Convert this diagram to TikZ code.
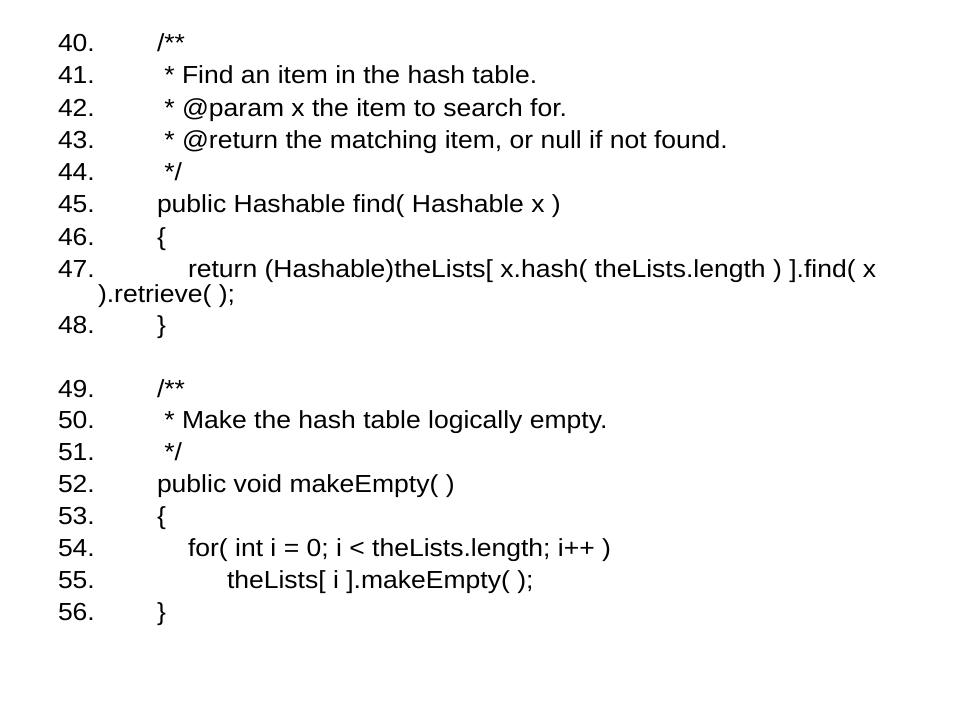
\documentclass[tikz,border=0pt]{standalone}
\usepackage{fontspec}
\setmainfont{Liberation Sans}[FakeStretch=1.075]
\begin{document}
\begin{tikzpicture}[x=0.75pt,y=-0.75pt,
  codeline/.style={anchor=base west,inner sep=0pt,outer sep=0pt,font=\fontsize{18.5}{21}\selectfont,text=black}]
\useasboundingbox[fill=white] (0,0) rectangle (960,720);
% line numbers
\node[codeline] (n40) at (58,51.7) {40.};
\node[codeline] (n41) at (58,84) {41.};
\node[codeline] (n42) at (58,116.5) {42.};
\node[codeline] (n43) at (58,148.5) {43.};
\node[codeline] (n44) at (58,181) {44.};
\node[codeline] (n45) at (58,213) {45.};
\node[codeline] (n46) at (58,245.5) {46.};
\node[codeline] (n47) at (58,277) {47.};
\node[codeline] (n48) at (58,333) {48.};
\node[codeline] (n49) at (58,397) {49.};
\node[codeline] (n50) at (58,428.5) {50.};
\node[codeline] (n51) at (58,460) {51.};
\node[codeline] (n52) at (58,492) {52.};
\node[codeline] (n53) at (58,524) {53.};
\node[codeline] (n54) at (58,556) {54.};
\node[codeline] (n55) at (58,588) {55.};
\node[codeline] (n56) at (58,620) {56.};
% code
\node[codeline] (c40) at (157,51.7) {/**};
\node[codeline] (c41) at (157,84) {\ * Find an item in the hash table.};
\node[codeline] (c42) at (157,116.5) {\ * @param x the item to search for.};
\node[codeline] (c43) at (157,148.5) {\ * @return the matching item, or null if not found.};
\node[codeline] (c44) at (157,181) {\ */};
\node[codeline] (c45) at (157,213) {public Hashable find( Hashable x )};
\node[codeline] (c46) at (157,245.5) {\{};
\node[codeline] (c47) at (188,277) {return (Hashable)theLists[ x.hash( theLists.length ) ].find( x};
\node[codeline] (c47b) at (98,302.5) {).retrieve( );};
\node[codeline] (c48) at (157,333) {\}};
\node[codeline] (c49) at (157,397) {/**};
\node[codeline] (c50) at (157,428.5) {\ * Make the hash table logically empty.};
\node[codeline] (c51) at (157,460) {\ */};
\node[codeline] (c52) at (157,492) {public void makeEmpty( )};
\node[codeline] (c53) at (157,524) {\{};
\node[codeline] (c54) at (188,556) {for( int i = 0; i < theLists.length; i++ )};
\node[codeline] (c55) at (227,588) {theLists[ i ].makeEmpty( );};
\node[codeline] (c56) at (157,620) {\}};
\end{tikzpicture}
\end{document}
